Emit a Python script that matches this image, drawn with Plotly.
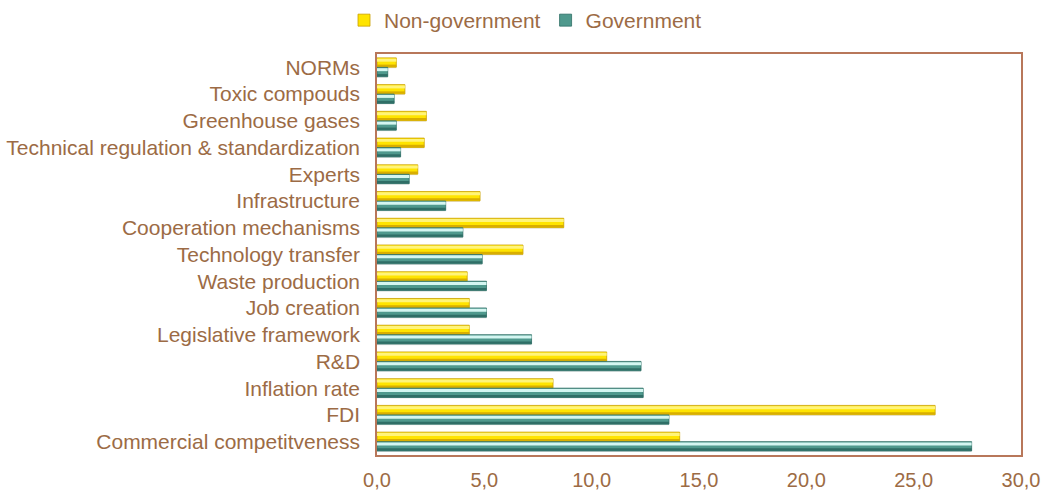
import plotly.graph_objects as go

categories = [
    "NORMs", "Toxic compouds", "Greenhouse gases",
    "Technical regulation & standardization", "Experts", "Infrastructure",
    "Cooperation mechanisms", "Technology transfer", "Waste production",
    "Job creation", "Legislative framework", "R&D", "Inflation rate",
    "FDI", "Commercial competitveness",
]
non_government = [0.9, 1.3, 2.3, 2.2, 1.9, 4.8, 8.7, 6.8, 4.2, 4.3, 4.3, 10.7, 8.2, 26.0, 14.1]
government = [0.5, 0.8, 0.9, 1.1, 1.5, 3.2, 4.0, 4.9, 5.1, 5.1, 7.2, 12.3, 12.4, 13.6, 27.7]
x_ticks = [0, 5, 10, 15, 20, 25, 30]
x_tick_labels = ["0,0", "5,0", "10,0", "15,0", "20,0", "25,0", "30,0"]

TEXT = "#9C6B45"
FRAME = "#B8775A"

fig = go.Figure()


def bevel_bar(values, name, offset, width, body, light, dark, edge):
    """A bar series drawn as a body plus a light top strip and a dark bottom strip."""
    # soft shadow just under the bar
    fig.add_trace(go.Bar(
        y=categories, x=values, orientation="h", showlegend=False, hoverinfo="skip",
        offset=offset + 0.04, width=width, marker=dict(color="rgba(120,120,120,0.15)", line_width=0),
    ))
    fig.add_trace(go.Bar(
        y=categories, x=values, orientation="h", name=name,
        offset=offset, width=width,
        marker=dict(color=body, line=dict(color=edge, width=0.8)),
    ))
    fig.add_trace(go.Bar(
        y=categories, x=values, orientation="h", showlegend=False, hoverinfo="skip",
        offset=offset + 0.03, width=width * 0.32, marker=dict(color=light, line_width=0),
    ))
    fig.add_trace(go.Bar(
        y=categories, x=values, orientation="h", showlegend=False, hoverinfo="skip",
        offset=offset + width * 0.72, width=width * 0.25, marker=dict(color=dark, line_width=0),
    ))


bevel_bar(non_government, "Non-government", -0.355, 0.35,
          "#FFE400", "#FFF47A", "#D9AE00", "#C9A000")
bevel_bar(government, "Government", 0.0, 0.35,
          "#4F998D", "#D4F6F1", "#2F6E66", "#2F6E66")

fig.update_layout(
    width=1051, height=493,
    margin=dict(l=377, r=30, t=54, b=38, autoexpand=False),
    paper_bgcolor="white", plot_bgcolor="white",
    barmode="overlay",
    font=dict(family="Liberation Sans, Arial, sans-serif", size=21, color=TEXT),
    legend=dict(orientation="h", x=0.5, xanchor="center", xref="container",
                y=1.0, yanchor="top", yref="container",
                font=dict(size=21, color=TEXT), itemwidth=30),
    showlegend=True,
)
fig.update_xaxes(
    range=[0, 30], tickvals=x_ticks, ticktext=x_tick_labels, automargin=False,
    showgrid=False, zeroline=False, showline=True, linecolor=FRAME, linewidth=1.5,
    mirror=True, ticks="", ticklabelstandoff=6, tickfont=dict(size=20, color=TEXT),
)
fig.update_yaxes(
    categoryorder="array", categoryarray=categories, autorange="reversed", automargin=False,
    showgrid=False, showline=True, linecolor=FRAME, linewidth=1.5, mirror=True,
    ticks="", ticklabelstandoff=11, tickfont=dict(size=21, color=TEXT),
)

fig.write_html("out.html")
